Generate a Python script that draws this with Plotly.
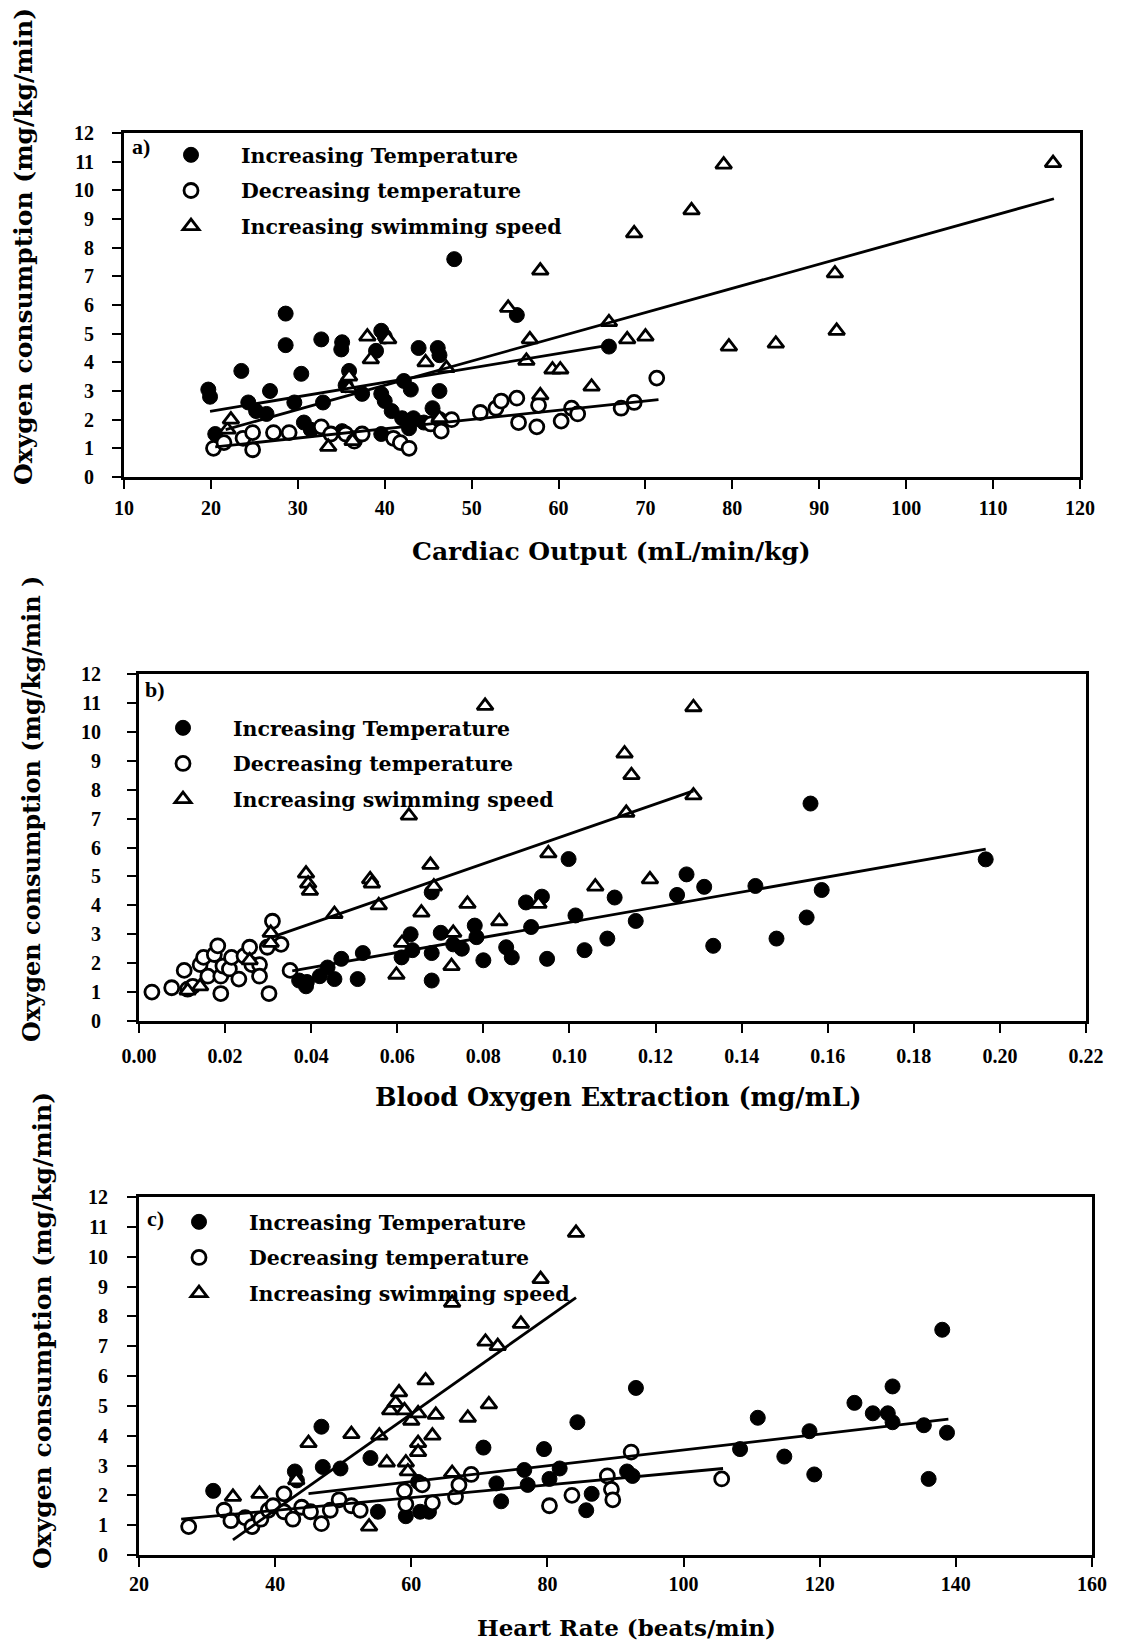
import numpy as np
import plotly.graph_objects as go

# ---- panel a) cardiac output ----
a_inc_x = [48.0, 28.6, 28.6, 32.7, 35.1, 35.0, 39.6, 40.0, 39.0, 23.5, 30.4, 35.9, 43.9, 46.1, 46.3,
           46.3, 42.2, 43.0, 19.7, 19.9, 24.3, 25.2, 26.4, 26.8, 29.6, 32.9, 35.5, 37.4, 39.6, 40.0,
           40.8, 42.0, 43.3, 42.8, 45.5, 30.7, 31.5, 35.1, 36.3, 20.5, 39.6, 44.5, 55.2, 65.8]
a_inc_y = [7.6, 5.7, 4.6, 4.8, 4.7, 4.45, 5.1, 4.9, 4.4, 3.7, 3.6, 3.7, 4.5, 4.5, 4.25,
           3.0, 3.35, 3.05, 3.05, 2.8, 2.6, 2.3, 2.2, 3.0, 2.6, 2.6, 3.2, 2.9, 2.9, 2.65,
           2.3, 2.05, 2.05, 1.7, 2.4, 1.9, 1.65, 1.6, 1.35, 1.5, 1.5, 1.9, 5.65, 4.55]
a_dec_x = [20.3, 21.5, 23.7, 24.8, 24.8, 27.2, 29.0, 32.7, 33.8, 35.5, 36.5, 37.4, 41.0, 41.8, 42.8,
           45.3, 46.3, 46.5, 47.7, 51.0, 52.8, 53.4, 55.2, 55.4, 57.5, 57.7, 60.3, 61.5, 62.2,
           67.2, 68.7, 71.3]
a_dec_y = [1.0, 1.2, 1.35, 1.55, 0.95, 1.55, 1.55, 1.75, 1.5, 1.5, 1.25, 1.5, 1.35, 1.2, 1.0,
           1.85, 2.0, 1.6, 2.0, 2.25, 2.4, 2.65, 2.75, 1.9, 1.75, 2.5, 1.95, 2.4, 2.2,
           2.4, 2.6, 3.45]
a_swim_x = [21.9, 22.3, 33.5, 36.3, 35.9, 35.9, 38.0, 40.4, 38.4, 44.7, 47.1, 46.3, 54.2, 56.7, 56.3,
            57.9, 57.9, 59.3, 60.2, 63.8, 65.8, 67.9, 70.0, 68.7, 75.3, 79.0, 79.6, 85.0, 91.8,
            92.0, 116.9]
a_swim_y = [1.65, 2.0, 1.05, 1.25, 3.5, 3.1, 4.9, 4.8, 4.1, 4.0, 3.8, 2.05, 5.9, 4.8, 4.05,
            7.2, 2.85, 3.75, 3.75, 3.15, 5.4, 4.8, 4.9, 8.5, 9.3, 10.9, 4.55, 4.65, 7.1,
            5.1, 10.95]
# fitted lines: intercept, slope, x from, x to
a_fit_inc = [1.29, 0.0503, 19.9, 66.2]
a_fit_dec = [0.385, 0.0324, 20.5, 71.5]
a_fit_swim = [-0.18, 0.0845, 21.7, 117.0]

# ---- panel b) blood oxygen extraction ----
b_inc_x = [0.0372, 0.0388, 0.039, 0.042, 0.0438, 0.0454, 0.047, 0.0508, 0.052, 0.061, 0.0631, 0.0635,
           0.068, 0.068, 0.068, 0.0701, 0.073, 0.075, 0.078, 0.0784, 0.08, 0.0853, 0.0866, 0.0899,
           0.0936, 0.0911, 0.0948, 0.0998, 0.1014, 0.1035, 0.1088, 0.1105, 0.1154, 0.125, 0.1272,
           0.1313, 0.1334, 0.1432, 0.1481, 0.1551, 0.156, 0.1586, 0.1967]
b_inc_y = [1.4, 1.2, 1.35, 1.55, 1.85, 1.45, 2.15, 1.45, 2.35, 2.2, 3.0, 2.45,
           1.4, 2.35, 4.45, 3.05, 2.65, 2.5, 3.3, 2.9, 2.1, 2.55, 2.2, 4.1,
           4.3, 3.25, 2.15, 5.6, 3.65, 2.45, 2.85, 4.27, 3.46, 4.36, 5.07,
           4.64, 2.6, 4.67, 2.85, 3.58, 7.52, 4.53, 5.59]
b_dec_x = [0.003, 0.0076, 0.0105, 0.0113, 0.0125, 0.0142, 0.015, 0.016, 0.0175, 0.0183, 0.019, 0.019,
           0.0195, 0.021, 0.0215, 0.0232, 0.0244, 0.0257, 0.0262, 0.028, 0.028, 0.0298, 0.0302,
           0.031, 0.033, 0.0351]
b_dec_y = [1.0, 1.15, 1.75, 1.1, 1.2, 1.95, 2.2, 1.55, 2.3, 2.6, 1.55, 0.95,
           1.9, 1.8, 2.2, 1.45, 2.25, 2.55, 1.95, 1.95, 1.55, 2.55, 0.95,
           3.45, 2.65, 1.75]
b_swim_x = [0.0113, 0.0142, 0.0257, 0.0306, 0.0306, 0.0388, 0.0393, 0.0397, 0.0454, 0.0537, 0.0541,
            0.0557, 0.0598, 0.0611, 0.0627, 0.0656, 0.0677, 0.0685, 0.0726, 0.073, 0.0763, 0.0804,
            0.0837, 0.0928, 0.0951, 0.106, 0.1132, 0.1128, 0.1144, 0.1187, 0.1288, 0.1288]
b_swim_y = [1.05, 1.2, 2.1, 2.7, 3.05, 5.1, 4.75, 4.5, 3.7, 4.9, 4.75,
            4.0, 1.6, 2.7, 7.1, 3.75, 5.4, 4.65, 1.9, 3.05, 4.05, 10.9,
            3.45, 4.05, 5.8, 4.65, 7.2, 9.25, 8.5, 4.9, 10.85, 7.8]
b_fit_inc = [0.80, 26.13, 0.0356, 0.1967]
b_fit_swim = [1.30, 51.7, 0.0306, 0.1288]

# ---- panel c) heart rate ----
c_inc_x = [30.9, 42.9, 43.2, 46.8, 47.0, 49.6, 54.0, 55.1, 59.2, 61.0, 61.3, 62.6, 70.6, 72.5, 73.2,
           76.6, 77.1, 79.5, 80.3, 81.8, 84.4, 85.7, 86.5, 91.7, 92.5, 93.0, 108.3, 110.9, 114.8,
           118.5, 119.2, 125.1, 127.8, 130.0, 130.7, 130.7, 135.3, 136.0, 138.7, 138.0]
c_inc_y = [2.15, 2.8, 2.5, 4.3, 2.95, 2.9, 3.25, 1.45, 1.3, 2.45, 1.45, 1.45, 3.6, 2.4, 1.8,
           2.85, 2.35, 3.55, 2.55, 2.9, 4.45, 1.5, 2.05, 2.8, 2.65, 5.6, 3.55, 4.6, 3.3,
           4.15, 2.7, 5.1, 4.75, 4.75, 5.65, 4.45, 4.35, 2.55, 4.1, 7.55]
c_dec_x = [27.3, 32.5, 33.5, 35.6, 36.6, 37.9, 39.0, 39.7, 41.3, 41.3, 42.6, 43.9, 45.2, 46.8, 48.1,
           49.4, 51.2, 52.5, 59.0, 59.2, 61.6, 63.1, 66.5, 67.0, 68.8, 80.3, 83.6, 88.8, 89.4,
           89.6, 92.3, 105.6]
c_dec_y = [0.95, 1.5, 1.15, 1.25, 0.95, 1.2, 1.5, 1.65, 2.05, 1.45, 1.2, 1.6, 1.45, 1.05, 1.5,
           1.85, 1.65, 1.5, 2.15, 1.7, 2.35, 1.75, 1.95, 2.35, 2.7, 1.65, 2.0, 2.65, 2.2,
           1.85, 3.45, 2.55]
c_swim_x = [33.8, 37.7, 43.1, 44.9, 51.2, 53.8, 55.3, 56.4, 56.9, 57.7, 58.2, 59.0, 59.2, 59.5, 60.0,
            61.0, 61.0, 61.0, 62.1, 63.1, 63.6, 66.0, 66.0, 68.3, 70.9, 71.4, 72.7, 76.1, 79.0, 84.2]
c_swim_y = [1.95, 2.05, 2.5, 3.75, 4.05, 0.95, 4.0, 3.1, 4.85, 5.1, 5.45, 4.85, 3.1, 2.8, 4.5,
            4.75, 3.75, 3.45, 5.85, 4.0, 4.7, 8.45, 2.75, 4.6, 7.15, 5.05, 7.0, 7.75, 9.25, 10.8]
c_fit_inc = [0.87, 0.0265, 44.9, 138.9]
c_fit_dec = [0.64, 0.02136, 26.2, 105.8]
c_fit_swim = [-4.935, 0.1611, 33.8, 84.2]

names = ["Increasing Temperature", "Decreasing temperature", "Increasing swimming speed"]
x_titles = ["Cardiac Output (mL/min/kg)", "Blood Oxygen Extraction (mg/mL)", "Heart Rate (beats/min)"]
y_titles = ["Oxygen consumption (mg/kg/min)", "Oxygen consumption (mg/kg/min )",
            "Oxygen consumption (mg/kg/min)"]
panel_tags = ["a)", "b)", "c)"]

# the page body adds an 8px margin, so the figure is 8px smaller than the window
OFF = 8
W, H = 1131 - OFF, 1643 - OFF
TXT = "DejaVu Serif"
NUM = "Liberation Serif"


def px(v):
    return (v - OFF) / W


def py(v):
    return 1 - (v - OFF) / H


fig = go.Figure()

styles = [
    dict(symbol="circle", size=15, color="black", line=dict(color="black", width=1)),
    dict(symbol="circle", size=14, color="white", line=dict(color="black", width=2.8)),
    dict(symbol="triangle-up", size=14, color="white", line=dict(color="black", width=2.8)),
]


def add_panel(i, series, fits, legend_id):
    xa = "x" if i == 1 else "x%d" % i
    ya = "y" if i == 1 else "y%d" % i
    for k, (xs, ys) in enumerate(series):
        fig.add_trace(go.Scatter(x=xs, y=ys, mode="markers", name=names[k], marker=styles[k],
                                 xaxis=xa, yaxis=ya, legend=legend_id, legendgroup="%s%d" % (legend_id, k)))
    for f in fits:
        xx = np.array([f[2], f[3]])
        fig.add_trace(go.Scatter(x=xx, y=f[0] + f[1] * xx, mode="lines", showlegend=False,
                                 line=dict(color="black", width=2.8), xaxis=xa, yaxis=ya,
                                 hoverinfo="skip"))


add_panel(1, [(a_inc_x, a_inc_y), (a_dec_x, a_dec_y), (a_swim_x, a_swim_y)],
          [a_fit_inc, a_fit_dec, a_fit_swim], "legend")
add_panel(2, [(b_inc_x, b_inc_y), (b_dec_x, b_dec_y), (b_swim_x, b_swim_y)],
          [b_fit_inc, b_fit_swim], "legend2")
add_panel(3, [(c_inc_x, c_inc_y), (c_dec_x, c_dec_y), (c_swim_x, c_swim_y)],
          [c_fit_inc, c_fit_dec, c_fit_swim], "legend3")

# plot boxes in window pixels: left, right, top, bottom
boxes = [(124, 1080, 133, 477), (139, 1086, 674, 1021), (139, 1092, 1197, 1555)]
x_ranges = [[10, 120], [0, 0.22], [20, 160]]
x_dticks = [10, 0.02, 20]
x_formats = ["d", ".2f", "d"]
x_standoff = [2, 6, 0]
y_standoff = [14, 22, 15]

axis_common = dict(showline=True, linecolor="black", linewidth=2.8, mirror=True, showgrid=False,
                   zeroline=False, ticks="outside", ticklen=9, tickwidth=2, tickcolor="black",
                   automargin=False,
                   tickfont=dict(family=NUM, size=20, color="black", weight="bold"))

for i, (l, r, t, b) in enumerate(boxes):
    n = "" if i == 0 else str(i + 1)
    fig.layout["xaxis" + n] = dict(axis_common, domain=[px(l), px(r)], range=x_ranges[i],
                                   dtick=x_dticks[i], tickformat=x_formats[i],
                                   anchor="y" + n, ticklabelstandoff=x_standoff[i])
    fig.layout["yaxis" + n] = dict(axis_common, domain=[py(b), py(t)], range=[0, 12], dtick=1,
                                   anchor="x" + n, ticklabelstandoff=y_standoff[i])

legend_common = dict(font=dict(family=TXT, size=20.5, color="black", weight="bold"),
                     bgcolor="rgba(0,0,0,0)", borderwidth=0, itemwidth=90,
                     tracegroupgap=6, xanchor="left", yanchor="top", itemclick=False)
fig.update_layout(
    legend=dict(legend_common, x=px(141), y=py(135)),
    legend2=dict(legend_common, x=px(133), y=py(708)),
    legend3=dict(legend_common, x=px(149), y=py(1202)),
)

ann = []
x_title_pos = [(611, 552), (618, 1097), (626, 1627)]
x_title_size = [25, 25.5, 23]
y_title_pos = [(23, 247), (31, 809), (42, 1331)]
y_title_size = [25, 24, 25]
tag_pos = [(141, 147), (155, 689), (155, 1218)]
for i in range(3):
    ann.append(dict(text=x_titles[i], x=px(x_title_pos[i][0]), y=py(x_title_pos[i][1]),
                    xref="paper", yref="paper", showarrow=False, xanchor="center", yanchor="middle",
                    font=dict(family=TXT, size=x_title_size[i], color="black", weight="bold")))
    ann.append(dict(text=y_titles[i], x=px(y_title_pos[i][0]), y=py(y_title_pos[i][1]),
                    xref="paper", yref="paper", showarrow=False, textangle=-90,
                    xanchor="center", yanchor="middle",
                    font=dict(family=TXT, size=y_title_size[i], color="black", weight="bold")))
    ann.append(dict(text=panel_tags[i], x=px(tag_pos[i][0]), y=py(tag_pos[i][1]),
                    xref="paper", yref="paper", showarrow=False, xanchor="center", yanchor="middle",
                    font=dict(family=NUM, size=22, color="black", weight="bold")))

fig.update_layout(width=W, height=H, margin=dict(l=0, r=0, t=0, b=0, autoexpand=False),
                  paper_bgcolor="white", plot_bgcolor="white", annotations=ann,
                  showlegend=True)

fig.write_html("out.html")
